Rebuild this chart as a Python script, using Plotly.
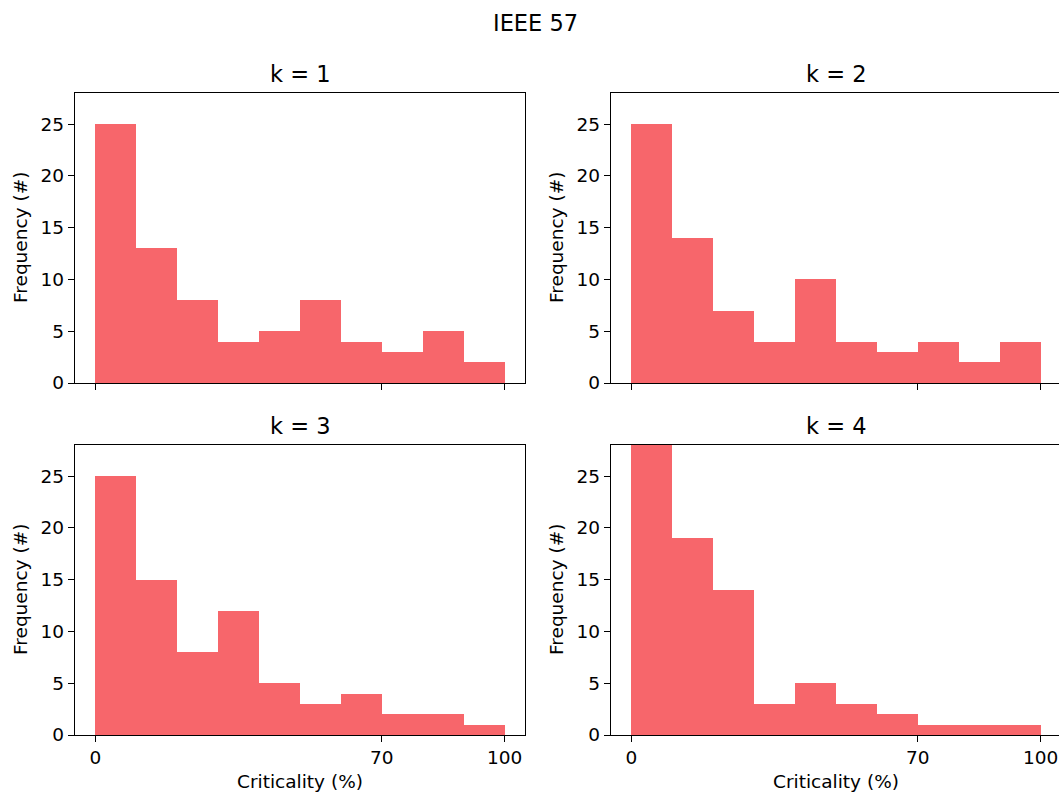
import plotly.graph_objects as go

# Histogram bin edges (criticality, %) and counts per bin for each k
bin_edges = [0, 10, 20, 30, 40, 50, 60, 70, 80, 90, 100]
counts_k1 = [25, 13, 8, 4, 5, 8, 4, 3, 5, 2]
counts_k2 = [25, 14, 7, 4, 10, 4, 3, 4, 2, 4]
counts_k3 = [25, 15, 8, 12, 5, 3, 4, 2, 2, 1]
counts_k4 = [28, 19, 14, 3, 5, 3, 2, 1, 1, 1]
panel_titles = ["k = 1", "k = 2", "k = 3", "k = 4"]
x_tick_vals = [0, 70, 100]
y_tick_vals = [0, 5, 10, 15, 20, 25]

W, H = 1059, 792
BAR_COLOR = "#F7666B"
FONT = "DejaVu Sans"
TICK_SIZE = 18.5
TITLE_SIZE = 22.5

centers = [(a + b) / 2 for a, b in zip(bin_edges[:-1], bin_edges[1:])]
widths = [b - a for a, b in zip(bin_edges[:-1], bin_edges[1:])]

# Panel placement in pixels: (left, right, top, bottom)
panels = [
    (75, 525, 93, 383),
    (611, 1061, 93, 383),
    (75, 525, 445, 735),
    (611, 1061, 445, 735),
]
px_per_unit = (525 - 75) / 110.0
x_lo = -5.0

fig = go.Figure()
all_counts = [counts_k1, counts_k2, counts_k3, counts_k4]
layout = {}
for i, (cnts, (l, r, t, b)) in enumerate(zip(all_counts, panels)):
    n = "" if i == 0 else str(i + 1)
    xa, ya = "x" + n, "y" + n
    fig.add_trace(go.Bar(
        x=centers, y=cnts, width=widths, marker=dict(color=BAR_COLOR, line=dict(width=0)),
        xaxis=xa, yaxis=ya, showlegend=False, hoverinfo="x+y",
    ))
    r_clip = min(r, W)
    x_hi = x_lo + (r_clip - l) / px_per_unit
    bottom_row = i >= 2
    layout["xaxis" + n] = dict(
        domain=[l / W, r_clip / W], range=[x_lo, x_hi], anchor=ya, automargin=False,
        tickvals=x_tick_vals, ticks="outside", ticklen=6, tickwidth=1.3, tickcolor="black",
        showticklabels=bottom_row, showgrid=False, zeroline=False,
        showline=True, linecolor="black", linewidth=1.3, mirror=True,
        tickfont=dict(family=FONT, size=TICK_SIZE, color="black"),
    )
    layout["yaxis" + n] = dict(
        domain=[(H - b) / H, (H - t) / H], range=[0, 28], anchor=xa, automargin=False,
        tickvals=y_tick_vals, ticks="outside", ticklen=6, tickwidth=1.3, tickcolor="black",
        showgrid=False, zeroline=False,
        showline=True, linecolor="black", linewidth=1.3, mirror=True,
        tickfont=dict(family=FONT, size=TICK_SIZE, color="black"),
    )

annotations = []
for (l, r, t, b), title in zip(panels, panel_titles):
    title_y = 74 if t < 200 else 426
    annotations.append(dict(
        text=title, x=(l + r) / 2 / W, y=(H - title_y) / H, xref="paper", yref="paper",
        xanchor="center", yanchor="middle", showarrow=False,
        font=dict(family=FONT, size=TITLE_SIZE, color="black"),
    ))
    annotations.append(dict(
        text="Frequency (#)", x=(l - 55) / W, y=(H - (t + b) / 2) / H, xref="paper", yref="paper",
        xanchor="center", yanchor="middle", textangle=-90, showarrow=False,
        font=dict(family=FONT, size=TICK_SIZE, color="black"),
    ))
for l, r, t, b in panels[2:]:
    annotations.append(dict(
        text="Criticality (%)", x=(l + r) / 2 / W, y=(H - 781) / H, xref="paper", yref="paper",
        xanchor="center", yanchor="middle", showarrow=False,
        font=dict(family=FONT, size=TICK_SIZE, color="black"),
    ))
annotations.append(dict(
    text="IEEE 57", x=535 / W, y=(H - 23) / H, xref="paper", yref="paper",
    xanchor="center", yanchor="middle", showarrow=False,
    font=dict(family=FONT, size=TITLE_SIZE, color="black"),
))

fig.update_layout(
    template="none",
    width=W, height=H, margin=dict(l=0, r=0, t=0, b=0, autoexpand=False),
    paper_bgcolor="white", plot_bgcolor="white",
    bargap=0, annotations=annotations, **layout,
)
fig.write_html("out.html")
